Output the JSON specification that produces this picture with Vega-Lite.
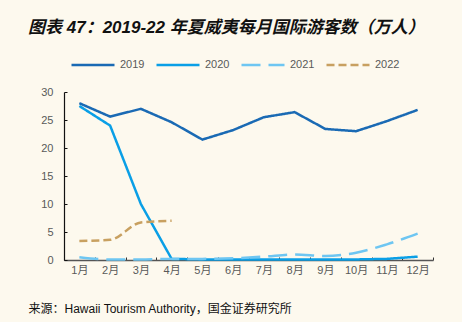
{
  "$schema": "https://vega.github.io/schema/vega-lite/v6.json",
  "width": 369,
  "height": 168,
  "autosize": {"type": "none"},
  "padding": {"left": 64, "top": 92, "right": 29, "bottom": 62},
  "background": "#fdf9ee",
  "title": {
    "text": "图表 47：2019-22 年夏威夷每月国际游客数（万人）",
    "anchor": "start",
    "frame": "group",
    "dx": -36,
    "offset": 5,
    "font": "Liberation Sans, Noto Sans CJK SC",
    "fontSize": 17,
    "fontStyle": "italic",
    "fontWeight": "bold",
    "color": "#111111"
  },
  "config": {
    "view": {"stroke": null},
    "font": "Liberation Sans, Noto Sans CJK SC"
  },
  "data": {
    "values": [
      {"月": "1月", "年": "2019", "人数": 28.0},
      {"月": "2月", "年": "2019", "人数": 25.6},
      {"月": "3月", "年": "2019", "人数": 27.0},
      {"月": "4月", "年": "2019", "人数": 24.6},
      {"月": "5月", "年": "2019", "人数": 21.5},
      {"月": "6月", "年": "2019", "人数": 23.2},
      {"月": "7月", "年": "2019", "人数": 25.5},
      {"月": "8月", "年": "2019", "人数": 26.4},
      {"月": "9月", "年": "2019", "人数": 23.4},
      {"月": "10月", "年": "2019", "人数": 23.0},
      {"月": "11月", "年": "2019", "人数": 24.8},
      {"月": "12月", "年": "2019", "人数": 26.8},
      {"月": "1月", "年": "2020", "人数": 27.5},
      {"月": "2月", "年": "2020", "人数": 24.0},
      {"月": "3月", "年": "2020", "人数": 10.0},
      {"月": "4月", "年": "2020", "人数": 0.2},
      {"月": "5月", "年": "2020", "人数": 0.1},
      {"月": "6月", "年": "2020", "人数": 0.1},
      {"月": "7月", "年": "2020", "人数": 0.1},
      {"月": "8月", "年": "2020", "人数": 0.1},
      {"月": "9月", "年": "2020", "人数": 0.1},
      {"月": "10月", "年": "2020", "人数": 0.1},
      {"月": "11月", "年": "2020", "人数": 0.2},
      {"月": "12月", "年": "2020", "人数": 0.6},
      {"月": "1月", "年": "2021", "人数": 0.5},
      {"月": "2月", "年": "2021", "人数": 0.1},
      {"月": "3月", "年": "2021", "人数": 0.1},
      {"月": "4月", "年": "2021", "人数": 0.2},
      {"月": "5月", "年": "2021", "人数": 0.2},
      {"月": "6月", "年": "2021", "人数": 0.3},
      {"月": "7月", "年": "2021", "人数": 0.6},
      {"月": "8月", "年": "2021", "人数": 1.0},
      {"月": "9月", "年": "2021", "人数": 0.7},
      {"月": "10月", "年": "2021", "人数": 1.3},
      {"月": "11月", "年": "2021", "人数": 2.8},
      {"月": "12月", "年": "2021", "人数": 4.7},
      {"月": "1月", "年": "2022", "人数": 3.4},
      {"月": "2月", "年": "2022", "人数": 3.6},
      {"月": "3月", "年": "2022", "人数": 6.7},
      {"月": "4月", "年": "2022", "人数": 7.0}
    ]
  },
  "encoding": {
    "x": {
      "field": "月",
      "type": "ordinal",
      "sort": ["1月", "2月", "3月", "4月", "5月", "6月", "7月", "8月", "9月", "10月", "11月", "12月"],
      "bandPosition": 0.5,
      "scale": {"type": "band", "paddingInner": 0, "paddingOuter": 0},
      "axis": {
        "title": "来源：Hawaii Tourism Authority，国金证券研究所",
        "titleAnchor": "start",
        "titleAlign": "left",
        "titleX": -36,
        "titleY": 48,
        "titleBaseline": "middle",
        "titleFontSize": 12,
        "titleFontWeight": "normal",
        "titleColor": "#111111",
        "labelAngle": 0,
        "labelFontSize": 11,
        "labelColor": "#595959",
        "labelPadding": 7,
        "tickBand": "extent",
        "tickSize": -3,
        "tickColor": "#333333",
        "domainColor": "#555555",
        "domainWidth": 1.5
      }
    },
    "y": {
      "field": "人数",
      "type": "quantitative",
      "scale": {"domain": [0, 30]},
      "axis": {
        "title": null,
        "values": [0, 5, 10, 15, 20, 25, 30],
        "grid": false,
        "labelFontSize": 11,
        "labelColor": "#595959",
        "labelPadding": 14,
        "tickSize": -3,
        "tickColor": "#111111",
        "domainColor": "#111111",
        "domainWidth": 1.2
      }
    },
    "color": {
      "field": "年",
      "type": "nominal",
      "scale": {
        "domain": ["2019", "2020", "2021", "2022"],
        "range": ["#1a6ab4", "#0a9fe6", "#6ec6f2", "#c8a060"]
      },
      "legend": {
        "title": null,
        "orient": "none",
        "legendX": 6,
        "legendY": -50,
        "direction": "horizontal",
        "symbolType": "stroke",
        "symbolSize": 1849,
        "symbolStrokeWidth": 2.5,
        "labelFontSize": 11,
        "labelColor": "#595959",
        "labelOffset": 4,
        "columnPadding": 6
      }
    },
    "strokeDash": {
      "field": "年",
      "type": "nominal",
      "scale": {
        "domain": ["2019", "2020", "2021", "2022"],
        "range": [[1, 0], [1, 0], [19, 8], [8, 4]]
      },
      "legend": null
    }
  },
  "layer": [
    {
      "transform": [{"filter": "datum['年'] == '2019' || datum['年'] == '2020'"}],
      "mark": {"type": "line", "interpolate": "linear", "strokeWidth": 2.5}
    },
    {
      "transform": [{"filter": "datum['年'] == '2021' || datum['年'] == '2022'"}],
      "mark": {"type": "line", "interpolate": "monotone", "strokeWidth": 2.5}
    }
  ]
}
